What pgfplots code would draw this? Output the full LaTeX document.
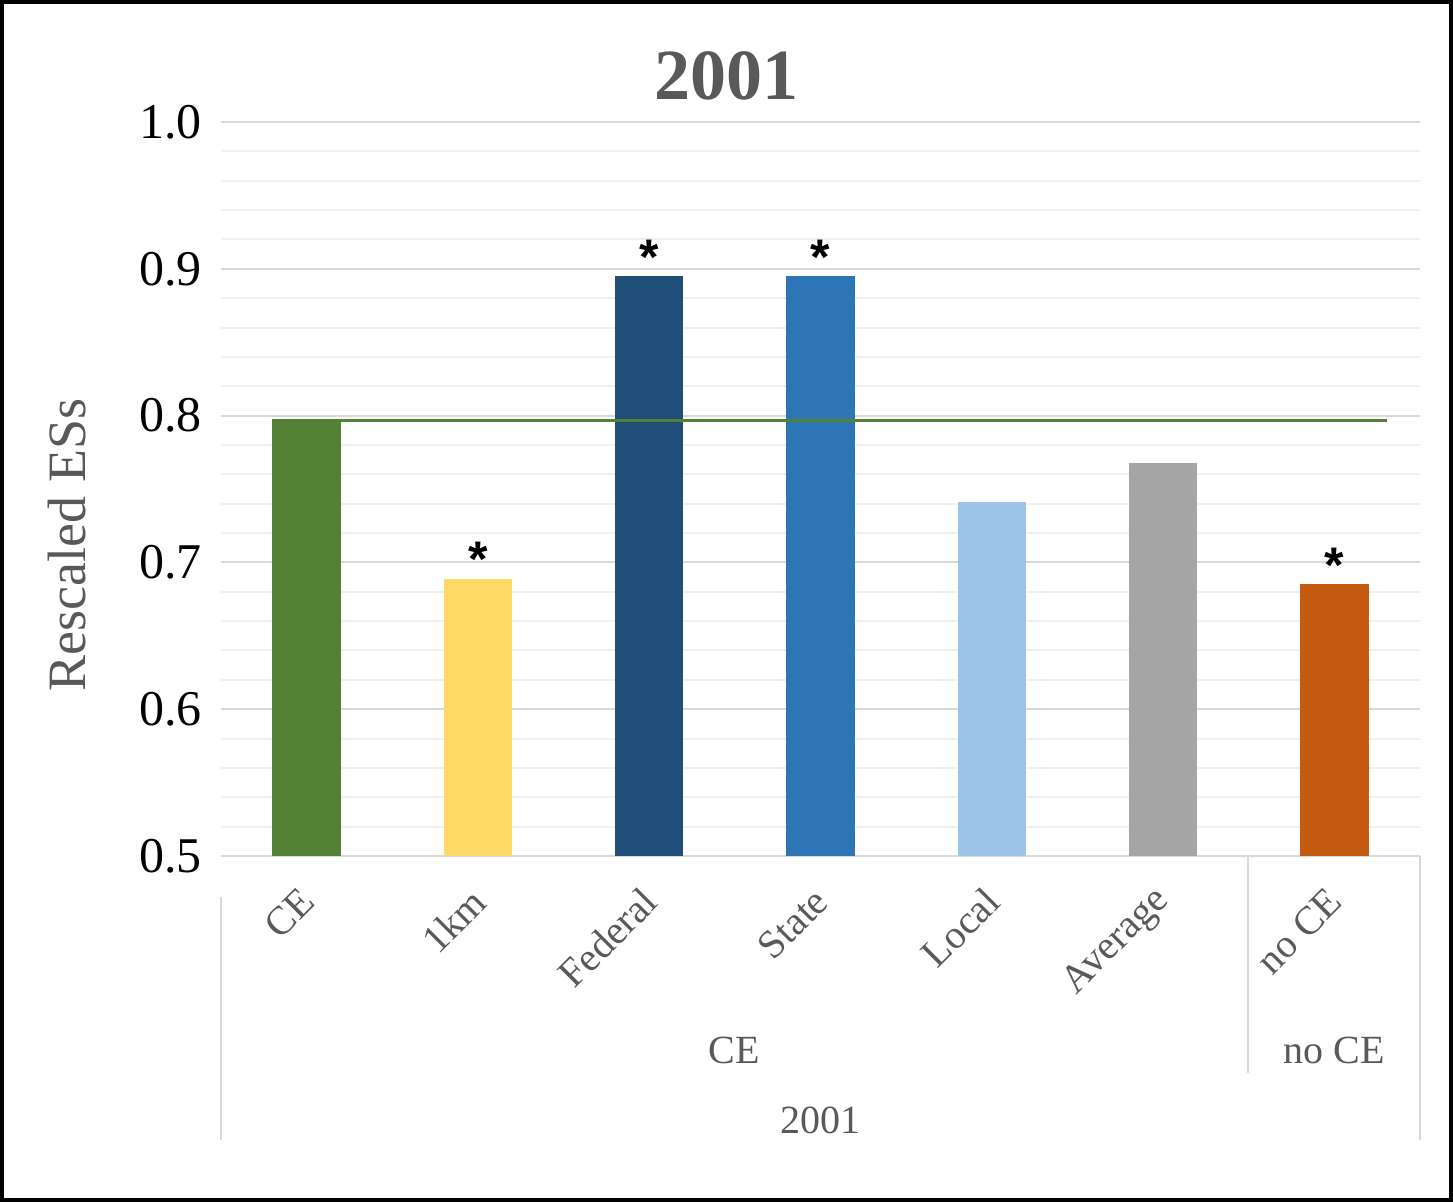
\documentclass[border=0pt]{standalone}
\usepackage{fontspec}
\setmainfont{Liberation Serif}
\newfontfamily\starfont{Liberation Sans}
\usepackage{pgfplots}
\pgfplotsset{compat=1.18}
\newlength\px
\setlength\px{0.5pt}
\definecolor{cegreen}{HTML}{548235}
\definecolor{kmyellow}{HTML}{FFD966}
\definecolor{fedblue}{HTML}{1F4E79}
\definecolor{stateblue}{HTML}{2E75B6}
\definecolor{localblue}{HTML}{9DC3E6}
\definecolor{avggray}{HTML}{A5A5A5}
\definecolor{noceorange}{HTML}{C55A11}
\definecolor{gridmajor}{HTML}{D9D9D9}
\definecolor{gridminor}{HTML}{F0F0F0}
\definecolor{labelgray}{HTML}{595959}

\begin{document}
\begin{tikzpicture}
\begin{axis}[
    name=ax,
    width=1199\px, height=734\px, scale only axis,
    xmin=-0.5, xmax=6.5, ymin=0.5, ymax=1.0,
    xtick={0,1,2,3,4,5,6},
    xticklabels={CE,1km,Federal,State,Local,Average,no CE},
    ytick={0.5,0.6,0.7,0.8,0.9,1.0},
    minor y tick num=4,
    ymajorgrids, yminorgrids,
    major grid style={draw=gridmajor, line width=2\px},
    minor grid style={draw=gridminor, line width=2\px},
    axis line style={draw=none},
    major tick length=0pt, minor tick length=0pt,
    /pgf/number format/assume math mode=true,
    yticklabel style={/pgf/number format/fixed, /pgf/number format/fixed zerofill,
        /pgf/number format/precision=1, font=\fontsize{25}{30}\selectfont,
        inner sep=0pt, xshift=-19\px},
    xticklabel style={font=\fontsize{20}{24}\selectfont, text=labelgray,
        inner sep=0pt, xshift=1\px, yshift=-39\px, rotate=45, anchor=east},
    title={2001},
    every axis title/.style={at={(axis description cs:0.4212,1.030)}, anchor=base,
        font=\fontsize{36}{40}\selectfont\bfseries, text=labelgray},
    ylabel={Rescaled ESs},
    every axis y label/.style={at={(axis description cs:-0.1134,0.4237)}, rotate=90,
        anchor=base, font=\fontsize{27}{32}\selectfont, text=labelgray},
    every node near coord/.append style={anchor=base, inner sep=0pt, yshift=2\px,
        font=\starfont\bfseries\fontsize{25}{28}\selectfont, text=black},
]
\addplot[ybar, bar width=0.4, bar shift=0pt, fill=cegreen, draw=none] coordinates {(0,0.797)};
\addplot[ybar, bar width=0.4, bar shift=0pt, fill=kmyellow, draw=none,
    nodes near coords={*}] coordinates {(1,0.689)};
\addplot[ybar, bar width=0.4, bar shift=0pt, fill=fedblue, draw=none,
    nodes near coords={*}] coordinates {(2,0.895)};
\addplot[ybar, bar width=0.4, bar shift=0pt, fill=stateblue, draw=none,
    nodes near coords={*}] coordinates {(3,0.895)};
\addplot[ybar, bar width=0.4, bar shift=0pt, fill=localblue, draw=none] coordinates {(4,0.741)};
\addplot[ybar, bar width=0.4, bar shift=0pt, fill=avggray, draw=none] coordinates {(5,0.768)};
\addplot[ybar, bar width=0.4, bar shift=0pt, fill=noceorange, draw=none,
    nodes near coords={*}] coordinates {(6,0.685)};
% reference line at the CE value
\addplot[cegreen, line width=3.5\px, mark=none] coordinates {(-0.2,0.7966) (6.31,0.7966)};
\end{axis}
% multi-level category axis
\draw[gridmajor, line width=2\px] ([yshift=-41\px]ax.south west) -- ([yshift=-284\px]ax.south west);
\draw[gridmajor, line width=2\px] ([xshift=1027\px]ax.south west) -- ([xshift=1027\px, yshift=-217\px]ax.south west);
\draw[gridmajor, line width=2\px] (ax.south east) -- ([yshift=-284\px]ax.south east);
\node[anchor=base, font=\fontsize{20}{24}\selectfont, text=labelgray]
    at ([xshift=513\px, yshift=-207\px]ax.south west) {CE};
\node[anchor=base, font=\fontsize{20}{24}\selectfont, text=labelgray]
    at ([xshift=1113\px, yshift=-207\px]ax.south west) {no CE};
\node[anchor=base, font=\fontsize{20}{24}\selectfont, text=labelgray]
    at ([xshift=599\px, yshift=-277\px]ax.south west) {2001};
% outer frame
\draw[line width=4\px] ([xshift=-219\px, yshift=-344\px]ax.south west) rectangle ([xshift=31\px, yshift=120\px]ax.north east);
\end{tikzpicture}
\end{document}
